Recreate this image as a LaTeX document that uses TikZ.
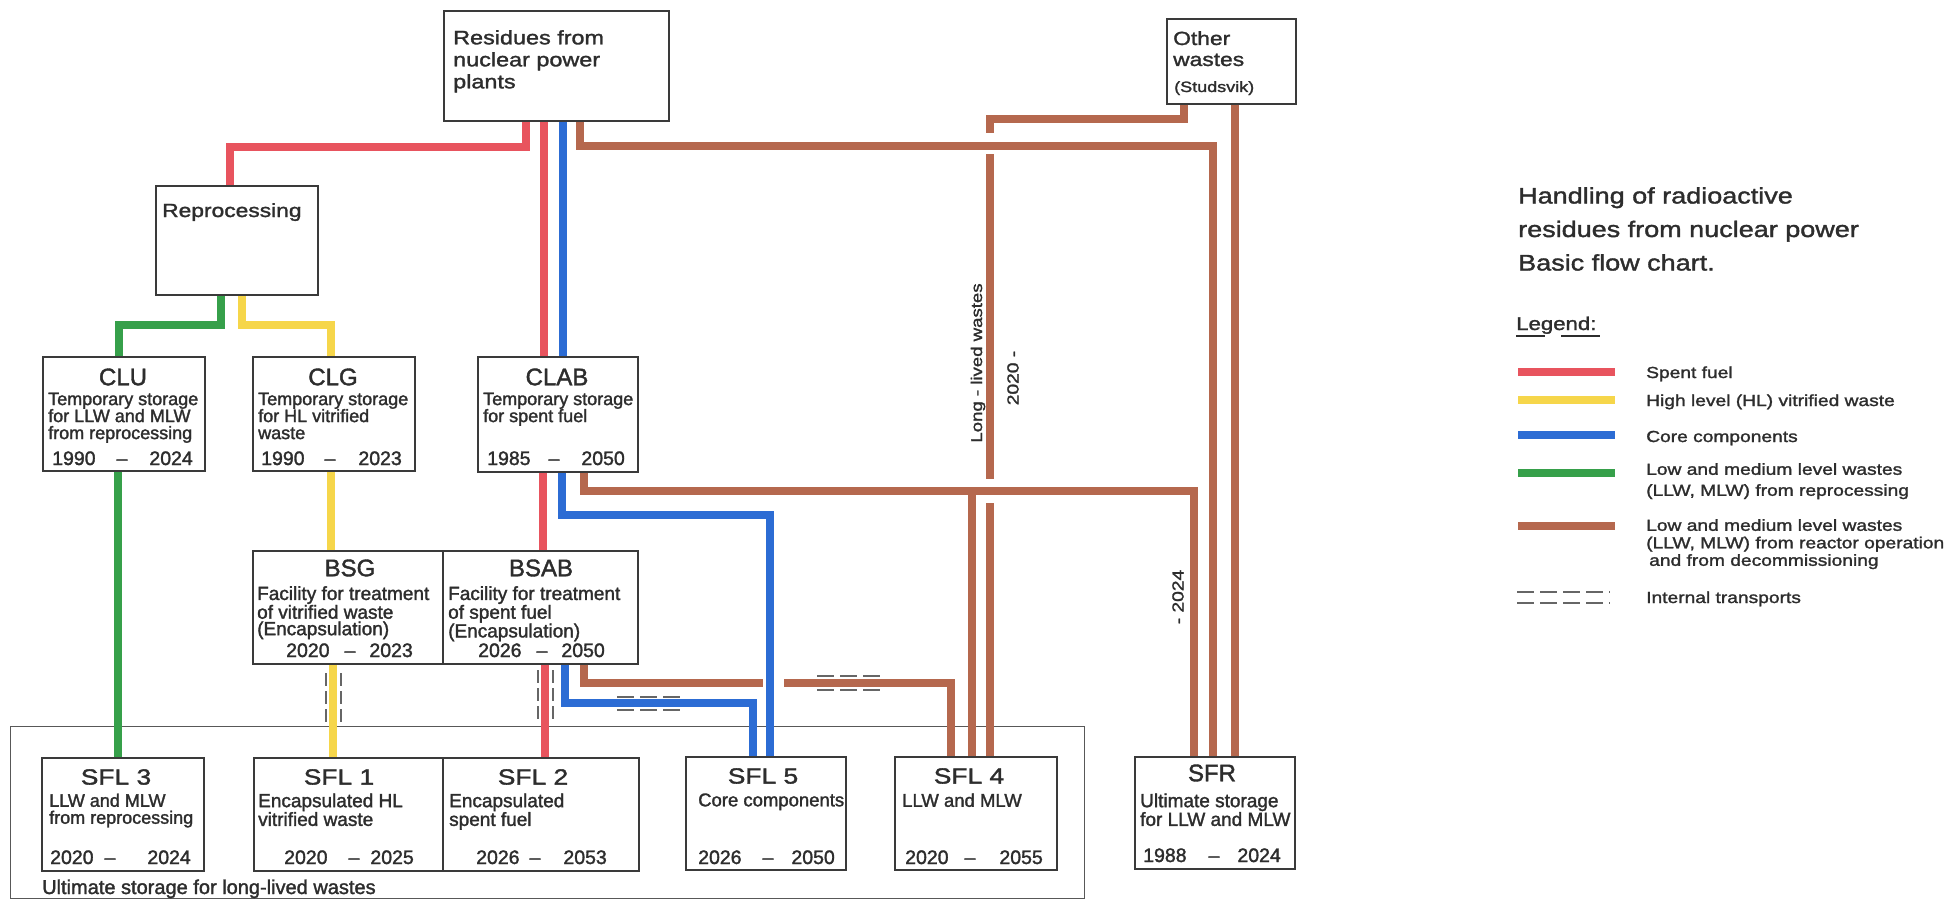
\documentclass[tikz,border=0pt]{standalone}
\usepackage{fontspec}
\setmainfont{Liberation Sans}[FakeBold=1.6]
\newfontfamily\wf[FakeStretch=1.2,FakeBold=1.6]{Liberation Sans}
\definecolor{cred}{RGB}{232,84,94}
\definecolor{cyel}{RGB}{246,214,74}
\definecolor{cblu}{RGB}{44,108,212}
\definecolor{cgrn}{RGB}{54,160,74}
\definecolor{cbrn}{RGB}{181,104,78}
\definecolor{txtc}{RGB}{45,45,45}
\definecolor{boxc}{RGB}{58,58,58}
\newcommand{\fsz}[2]{\fontsize{#1}{#2}\selectfont}
\newcommand{\yrow}[7]{%
  \node[yr,anchor=base west] (#1l) at (#3,#2) {#6};
  \node[yr,anchor=base] (#1d) at (#4,#2) {–};
  \node[yr,anchor=base east] (#1r) at (#5,#2) {#7};}
\begin{document}
\begin{tikzpicture}[x=1pt,y=-1pt,
  bx/.style={draw=boxc,line width=1.8pt,fill=white,inner sep=0pt,anchor=north west},
  ln/.style={line width=8pt},
  rl/.style={ln,draw=cred},
  yl/.style={ln,draw=cyel},
  bl/.style={ln,draw=cblu},
  gl/.style={ln,draw=cgrn},
  nl/.style={ln,draw=cbrn},
  tx/.style={inner sep=0pt,text=txtc},
  ttl/.style={tx,font=\fsz{24}{24}},
  sttl/.style={tx,font=\wf\fsz{22}{22}},
  dsc/.style={tx,anchor=north west,align=left,font=\fsz{18}{17}},
  yr/.style={tx,font=\fsz{19.5}{19.5}},
  lg/.style={tx,font=\wf\fsz{16}{16}},
  itd/.style={draw=black!60,line width=1.1pt,dash pattern=on 17pt off 6pt},
  itv/.style={draw=black!60,line width=1.1pt,dash pattern=on 13pt off 5pt}]
\useasboundingbox (0,0) rectangle (1952,899);
\fill[white] (0,0) rectangle (1952,899);

% outer frame for long-lived wastes
\node[draw=boxc!85,line width=1.2pt,inner sep=0pt,anchor=north west,minimum width=1074pt,minimum height=172pt] (ult) at (10,726) {};

% ---- box placeholders (named, used by connectors; drawn later) ----
\path
  (444,11)  node[bx,minimum width=223pt,minimum height=108pt,draw=none,fill=none] (res) {}
  (156,186) node[bx,minimum width=160pt,minimum height=107pt,draw=none,fill=none] (rep) {}
  (1167,19) node[bx,minimum width=127pt,minimum height=83pt,draw=none,fill=none] (oth) {}
  (43,357)  node[bx,minimum width=160pt,minimum height=112pt,draw=none,fill=none] (clu) {}
  (253,357) node[bx,minimum width=160pt,minimum height=112pt,draw=none,fill=none] (clg) {}
  (478,357) node[bx,minimum width=158pt,minimum height=113pt,draw=none,fill=none] (clab) {}
  (253,551) node[bx,minimum width=190pt,minimum height=111pt,draw=none,fill=none] (bsg) {}
  (443,551) node[bx,minimum width=193pt,minimum height=111pt,draw=none,fill=none] (bsab) {}
  (42,758)  node[bx,minimum width=160pt,minimum height=111pt,draw=none,fill=none] (sfl3) {}
  (254,758) node[bx,minimum width=189pt,minimum height=111pt,draw=none,fill=none] (sfl1) {}
  (443,758) node[bx,minimum width=194pt,minimum height=111pt,draw=none,fill=none] (sfl2) {}
  (686,757) node[bx,minimum width=158pt,minimum height=111pt,draw=none,fill=none] (sfl5) {}
  (895,757) node[bx,minimum width=160pt,minimum height=111pt,draw=none,fill=none] (sfl4) {}
  (1135,757) node[bx,minimum width=158pt,minimum height=110pt,draw=none,fill=none] (sfr) {};

% ---- gap end coordinates ----
\coordinate (n3a) at (763,683);
\coordinate (n3b) at (784,683);
\coordinate (n4a) at (990,133);
\coordinate (n4b) at (990,154);
\coordinate (n4c) at (990,479);
\coordinate (n4d) at (990,503);
\coordinate (br4) at (972,491);

% ---- connectors ----
\draw[rl] (res.south -| 526,0) |- (230,147) -- (rep.north -| 230,0);
\draw[rl] (res.south -| 544,0) -- (clab.north -| 544,0);
\draw[rl] (clab.south -| 543,0) -- (bsab.north -| 543,0);
\draw[rl] (bsab.south -| 545,0) -- (sfl2.north -| 545,0);
\draw[bl] (res.south -| 563,0) -- (clab.north -| 563,0);
\draw[bl] (clab.south -| 562,0) |- (770,515) -- (sfl5.north -| 770,0);
\draw[bl] (bsab.south -| 565,0) |- (753,703) -- (sfl5.north -| 753,0);
\draw[gl] (rep.south -| 221,0) |- (119,325) -- (clu.north -| 119,0);
\draw[gl] (clu.south -| 118,0) -- (sfl3.north -| 118,0);
\draw[yl] (rep.south -| 242,0) |- (331,325) -- (clg.north -| 331,0);
\draw[yl] (clg.south -| 331,0) -- (bsg.north -| 331,0);
\draw[yl] (bsg.south -| 333,0) -- (sfl1.north -| 333,0);
\draw[nl] (res.south -| 580,0) |- (1213,146) -- (sfr.north -| 1213,0);
\draw[nl] (clab.south -| 584,0) |- (1194,491) -- (sfr.north -| 1194,0);
\draw[nl] (br4) -- (sfl4.north -| 972,0);
\draw[nl] (bsab.south -| 584,0) |- (n3a);
\draw[nl] (n3b) -| (sfl4.north -| 951,0);
\draw[nl] (oth.south -| 1184,0) |- (990,119) -- (n4a);
\draw[nl] (n4b) -- (n4c);
\draw[nl] (n4d) -- (sfl4.north -| 990,0);
\draw[nl] (oth.south -| 1235,0) -- (sfr.north -| 1235,0);

% ---- internal transport markers ----
\draw[itd] (817,676) -- (880,676);
\draw[itd] (817,690) -- (880,690);
\draw[itd] (617,697) -- (680,697);
\draw[itd] (617,710) -- (680,710);
\draw[itv] (326,673) -- (326,723);
\draw[itv] (341,673) -- (341,723);
\draw[itv] (538,670) -- (538,723);
\draw[itv] (553,670) -- (553,723);

% ---- visible boxes ----
\foreach \b in {res,rep,oth,clu,clg,clab,bsg,bsab,sfl3,sfl1,sfl2,sfl5,sfl4,sfr}
  \draw[boxc,line width=1.8pt,fill=white] (\b.north west) rectangle (\b.south east);

% ---- texts ----
\node[tx,anchor=north west,align=left,font=\wf\fsz{19.5}{22}] (rest) at (453,30) {Residues from\\nuclear power\\plants};
\node[tx,anchor=base west,font=\wf\fsz{19}{19}] (rept) at (162,217) {Reprocessing};
\node[tx,anchor=north west,align=left,font=\wf\fsz{19}{21}] (otht) at (1173,31) {Other\\wastes};
\node[tx,anchor=base west,font=\wf\fsz{15}{15}] (oths) at (1174,92) {(Studsvik)};

\node[ttl] (clut) at (123,377) {CLU};
\node[ttl] (clgt) at (333,377) {CLG};
\node[ttl] (clabt) at (557,377) {CLAB};
\node[dsc] (clud) at (48,392.5) {Temporary storage\\for LLW and MLW\\from reprocessing};
\node[dsc] (clgd) at (258,392.5) {Temporary storage\\for HL vitrified\\waste};
\node[dsc] (clabd) at (483,392.5) {Temporary storage\\for spent fuel};
\yrow{cluy}{465}{52}{122}{193}{1990}{2024}
\yrow{clgy}{465}{261}{330}{402}{1990}{2023}
\yrow{claby}{465}{487}{554}{625}{1985}{2050}

\node[ttl] (bsgt) at (350,568) {BSG};
\node[ttl] (bsabt) at (541,568) {BSAB};
\node[dsc,font=\fsz{19}{16.5}] (bsgd) at (257,586) {Facility for treatment\\of vitrified waste\\(Encapsulation)};
\node[dsc,font=\fsz{19}{16.5}] (bsabd) at (448,586) {Facility for treatment\\of spent fuel\\(Encapsulation)};
\yrow{bsgy}{657}{286}{350}{413}{2020}{2023}
\yrow{bsaby}{657}{478}{542}{605}{2026}{2050}

\node[sttl] (sfl3t) at (116,777) {SFL 3};
\node[sttl] (sfl1t) at (339,777) {SFL 1};
\node[sttl] (sfl2t) at (533,777) {SFL 2};
\node[sttl] (sfl5t) at (763,776) {SFL 5};
\node[sttl] (sfl4t) at (969,776) {SFL 4};
\node[ttl] (sfrt) at (1212,773) {SFR};
\node[dsc] (sfl3d) at (49,793.5) {LLW and MLW\\from reprocessing};
\node[dsc,font=\fsz{19}{17}] (sfl1d) at (258,793.2) {Encapsulated HL\\vitrified waste};
\node[dsc,font=\fsz{19}{17}] (sfl2d) at (449,793.2) {Encapsulated\\spent fuel};
\node[dsc,font=\fsz{18.5}{17}] (sfl5d) at (698,793.2) {Core components};
\node[dsc,font=\fsz{18.5}{17}] (sfl4d) at (902,793.2) {LLW and MLW};
\node[dsc,font=\fsz{19}{17}] (sfrd) at (1140,793.2) {Ultimate storage\\for LLW and MLW};
\yrow{sfl3y}{864}{50}{110}{191}{2020}{2024}
\yrow{sfl1y}{864}{284}{354}{414}{2020}{2025}
\yrow{sfl2y}{864}{476}{535}{607}{2026}{2053}
\yrow{sfl5y}{864}{698}{768}{835}{2026}{2050}
\yrow{sfl4y}{864}{905}{970}{1043}{2020}{2055}
\yrow{sfry}{862}{1143}{1214}{1281}{1988}{2024}

\node[tx,anchor=base west,font=\fsz{20}{20}] (ultt) at (42,894) {Ultimate storage for long-lived wastes};

\node[tx,rotate=90,font=\wf\fsz{15.5}{15.5}] (llw) at (978,363) {Long - lived wastes};
\node[tx,rotate=90,font=\wf\fsz{16}{16}] (p2020) at (1013,378) {2020 -};
\node[tx,rotate=90,font=\wf\fsz{16}{16}] (p2024) at (1178,597) {- 2024};

% ---- title and legend ----
\node[tx,anchor=north west,align=left,font=\wf\fsz{22.5}{33.5}] (title) at (1518,187) {Handling of radioactive\\residues from nuclear power\\Basic flow chart.};
\node[tx,anchor=base west,font=\wf\fsz{18.5}{18.5}] (legt) at (1516,330) {Legend:};
\draw[txtc,line width=1.2pt] (1516,336) -- (1545,336) (1561,336) -- (1600,336);

\draw[rl] (1518,372) -- (1615,372);
\draw[yl] (1518,400) -- (1615,400);
\draw[bl] (1518,435) -- (1615,435);
\draw[gl] (1518,473) -- (1615,473);
\draw[nl] (1518,526) -- (1615,526);
\draw[itd] (1517,592) -- (1610,592);
\draw[itd] (1517,603) -- (1610,603);
\node[lg,anchor=base west] (l1) at (1646,378) {Spent fuel};
\node[lg,anchor=base west] (l2) at (1646,406) {High level (HL) vitrified waste};
\node[lg,anchor=base west] (l3) at (1646,442) {Core components};
\node[lg,anchor=north west,align=left,font=\wf\fsz{16}{21}] (l4) at (1646,463) {Low and medium level wastes\\(LLW, MLW) from reprocessing};
\node[lg,anchor=north west,align=left,font=\wf\fsz{16}{17.5}] (l5) at (1646,519) {Low and medium level wastes\\(LLW, MLW) from reactor operation\\\hspace{3pt}and from decommissioning};
\node[lg,anchor=base west] (l6) at (1646,603) {Internal transports};
\end{tikzpicture}
\end{document}
